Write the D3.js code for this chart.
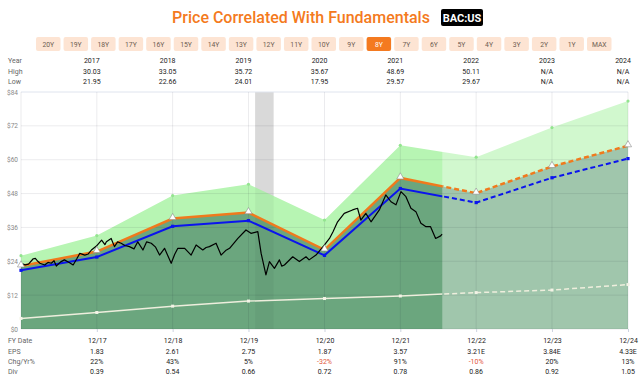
<!DOCTYPE html>
<html>
<head>
<meta charset="utf-8">
<script src="https://cdn.jsdelivr.net/npm/d3@7"></script>
<style>
  body { margin: 0; background: #fff; }
  svg { display: block; font-family: Roboto, "Noto Sans", sans-serif; }
</style>
</head>
<body>
<svg id="chart" width="640" height="376"></svg>
<script>
// range buttons
const ranges = ["20Y","19Y","18Y","17Y","16Y","15Y","14Y","13Y","12Y","11Y","10Y","9Y","8Y","7Y","6Y","5Y","4Y","3Y","2Y","1Y","MAX"];
const selectedRange = "8Y";

// top table
const years = ["2017","2018","2019","2020","2021","2022","2023","2024"];
const highs = ["30.03","33.05","35.72","35.67","48.69","50.11","N/A","N/A"];
const lows = ["21.95","22.66","24.01","17.95","29.57","29.67","N/A","N/A"];

// bottom table
const fyLabels = ["12/17","12/18","12/19","12/20","12/21","12/22","12/23","12/24"];
const epsLabels = ["1.83","2.61","2.75","1.87","3.57","3.21E","3.84E","4.33E"];
const chgLabels = ["22%","43%","5%","-32%","91%","-10%","20%","13%"];
const divLabels = ["0.39","0.54","0.66","0.72","0.78","0.86","0.92","1.05"];

// fundamentals, fiscal year ends 12/16 .. 12/24
const fyEnds = ["2016-12-31","2017-12-31","2018-12-31","2019-12-31","2020-12-31","2021-12-31","2022-12-31","2023-12-31","2024-12-31"];
const upperBand = [26.0, 33.1, 47.3, 51.3, 38.6, 65.1, 60.9, 71.4, 80.8];
const normalPE = [22.35, 27.45, 39.15, 41.25, 28.05, 53.55, 48.15, 57.6, 64.95];
const blendedPE = [20.8, 25.5, 36.4, 38.4, 26.1, 49.8, 44.8, 53.6, 60.4];
const divLine = [3.75, 5.85, 8.1, 9.9, 10.8, 11.7, 12.9, 13.8, 15.75];

// closing price
const priceDates = ["2016-12-30","2017-01-12","2017-01-20","2017-02-05","2017-02-28","2017-03-10","2017-03-22","2017-04-01","2017-04-24","2017-05-10","2017-05-26","2017-06-08","2017-06-19","2017-07-10","2017-07-28","2017-08-20","2017-09-08","2017-09-25","2017-10-10","2017-11-03","2017-11-20","2017-12-05","2017-12-29","2018-01-23","2018-02-08","2018-02-15","2018-03-10","2018-03-26","2018-04-10","2018-04-27","2018-05-15","2018-06-06","2018-06-28","2018-07-16","2018-08-10","2018-08-28","2018-09-19","2018-10-10","2018-10-29","2018-11-22","2018-12-24","2019-01-10","2019-01-25","2019-02-27","2019-03-30","2019-04-23","2019-05-25","2019-06-10","2019-06-26","2019-07-28","2019-08-21","2019-09-12","2019-10-01","2019-11-10","2019-12-19","2020-01-12","2020-02-14","2020-03-01","2020-03-24","2020-04-10","2020-05-04","2020-05-28","2020-06-08","2020-06-21","2020-07-31","2020-09-01","2020-10-03","2020-10-18","2020-11-20","2020-12-31","2021-01-24","2021-02-10","2021-03-04","2021-04-05","2021-05-15","2021-06-08","2021-06-24","2021-07-18","2021-08-12","2021-09-21","2021-10-22","2021-11-16","2021-12-10","2022-01-03","2022-01-27","2022-02-20","2022-03-16","2022-04-09","2022-05-02","2022-05-25","2022-06-19","2022-07-13","2022-07-20"];
const priceValues = [22.1,23.0,22.7,23.0,24.9,25.0,24.0,23.3,22.7,23.6,23.3,24.2,22.3,23.8,24.5,23.6,22.7,24.8,26.8,26.2,26.6,28.0,29.4,31.5,29.9,30.9,32.1,29.2,30.9,30.4,29.6,29.2,28.4,30.9,28.0,30.9,30.4,29.0,26.2,28.6,23.3,26.5,28.6,28.6,26.2,29.8,28.0,28.9,29.2,30.4,26.2,27.8,28.6,32.1,35.1,33.9,34.5,26.8,19.2,23.9,21.5,24.5,22.3,22.7,25.6,23.9,25.6,24.5,26.2,29.8,32.1,34.5,38.0,41.0,42.2,42.8,38.6,41.0,38.0,42.2,47.5,45.1,44.0,48.7,46.9,42.8,41.6,37.5,36.3,36.3,32.1,33.0,33.6];

const currentDate = "2022-07-21";
const recession = ["2020-02-01","2020-04-30"];
const yTicks = [0, 12, 24, 36, 48, 60, 72, 84];

const parse = d3.timeParse("%Y-%m-%d");
const svg = d3.select("#chart");

const plotLeft = 21, plotRight = 628, plotTop = 92, plotBottom = 329;
const x = d3.scaleTime().domain([parse(fyEnds[0]), parse(fyEnds[fyEnds.length - 1])]).range([plotLeft, plotRight]);
const y = d3.scaleLinear().domain([0, 84]).range([plotBottom, plotTop]);

// title
svg.append("text")
  .attr("x", 301).attr("y", 23)
  .attr("text-anchor", "middle")
  .attr("fill", "#f47a20")
  .style("font-size", "16px").style("font-weight", 500)
  .text("Price Correlated With Fundamentals");
svg.append("rect")
  .attr("x", 441).attr("y", 9).attr("width", 42).attr("height", 17).attr("rx", 2)
  .attr("fill", "#000");
svg.append("text")
  .attr("x", 462).attr("y", 21.5)
  .attr("text-anchor", "middle").attr("fill", "#fff")
  .style("font-size", "11px").style("font-weight", 700)
  .text("BAC:US");

// buttons
const btn = svg.append("g").selectAll("g").data(ranges).join("g")
  .attr("transform", (d, i) => `translate(${36 + i * 27.55},37)`);
btn.append("rect")
  .attr("width", 24.5).attr("height", 14).attr("rx", 2)
  .attr("fill", d => d === selectedRange ? "#f47a20" : "#fde4d3");
btn.append("text")
  .attr("x", 12.25).attr("y", 9.5).attr("text-anchor", "middle")
  .attr("fill", d => d === selectedRange ? "#fff" : "#6e5d52")
  .style("font-size", "6.8px")
  .text(d => d);

// top table
const tableCol = i => x(parse(fyEnds[i + 1])) - 5;
function tableRow(label, values, yy, colorFn) {
  svg.append("text").attr("x", 8).attr("y", yy).attr("dy", "0.35em")
    .attr("fill", "#666").style("font-size", "7px").text(label);
  svg.append("g").selectAll("text").data(values).join("text")
    .attr("x", (d, i) => tableCol(i)).attr("y", yy).attr("dy", "0.35em")
    .attr("text-anchor", "middle")
    .attr("fill", colorFn || "#222").style("font-size", "7px")
    .text(d => d);
}
tableRow("Year", years, 61);
tableRow("High", highs, 72);
tableRow("Low", lows, 82);

// plot
const plot = svg.append("g");
const cur = x(parse(currentDate));

// recession band behind
plot.append("rect")
  .attr("x", x(parse(recession[0]))).attr("y", plotTop)
  .attr("width", x(parse(recession[1])) - x(parse(recession[0])))
  .attr("height", plotBottom - plotTop).attr("fill", "#e2e2e2");

const fy = fyEnds.map(parse);
const areaUpper = d3.area().x((d, i) => x(fy[i])).y0(y(0)).y1(d => y(d));
plot.append("path").datum(upperBand).attr("d", areaUpper).attr("fill", "#b7f5b3");
plot.append("path").datum(normalPE).attr("d", areaUpper).attr("fill", "#6ba67e");

// recession tint over areas
plot.append("rect")
  .attr("x", x(parse(recession[0]))).attr("y", plotTop)
  .attr("width", x(parse(recession[1])) - x(parse(recession[0])))
  .attr("height", plotBottom - plotTop).attr("fill", "rgba(0,0,0,0.04)");

// future wash
plot.append("rect")
  .attr("x", cur).attr("y", plotTop).attr("width", plotRight - cur).attr("height", plotBottom - plotTop)
  .attr("fill", "rgba(255,255,255,0.36)");

// grid
plot.append("g").selectAll("line").data(yTicks).join("line")
  .attr("x1", plotLeft).attr("x2", plotRight).attr("y1", d => y(d)).attr("y2", d => y(d))
  .attr("stroke", d => d === 84 ? "#dfe4ee" : "rgba(0,0,40,0.08)").attr("stroke-width", 1);
plot.append("g").selectAll("line").data(fy).join("line")
  .attr("x1", d => x(d)).attr("x2", d => x(d)).attr("y1", plotTop).attr("y2", plotBottom)
  .attr("stroke", "rgba(0,0,40,0.08)").attr("stroke-width", 1);

// axes
const yAxis = svg.append("g").attr("transform", `translate(${plotLeft},0)`)
  .call(d3.axisLeft(y).tickValues(yTicks).tickFormat(d => "$" + d).tickSize(0).tickPadding(3));
yAxis.select(".domain").remove();
yAxis.selectAll("text").attr("fill", "#888").style("font-size", "6.5px").style("font-family", "Roboto, sans-serif");

const xAxis = svg.append("g").attr("transform", `translate(0,${plotBottom})`)
  .call(d3.axisBottom(x).tickValues(fy.slice(1)).tickFormat(d3.timeFormat("%m/%y")).tickSize(3).tickPadding(6));
xAxis.select(".domain").remove();
xAxis.selectAll("line").attr("stroke", "#cdd3e0");
xAxis.selectAll("text").attr("fill", "#222").style("font-size", "7px").style("font-family", "Roboto, sans-serif");
svg.append("text").attr("x", 8).attr("y", 341).attr("dy", "0.35em")
  .attr("fill", "#666").style("font-size", "7px").text("FY Date");

// bottom table
const botCol = i => x(fy[i + 1]);
function botRow(label, values, yy, colorFn) {
  svg.append("text").attr("x", 8).attr("y", yy).attr("dy", "0.35em")
    .attr("fill", "#666").style("font-size", "7px").text(label);
  svg.append("g").selectAll("text").data(values).join("text")
    .attr("x", (d, i) => botCol(i)).attr("y", yy).attr("dy", "0.35em")
    .attr("text-anchor", "middle")
    .attr("fill", colorFn || "#222").style("font-size", "7px")
    .text(d => d);
}
botRow("EPS", epsLabels, 352);
botRow("Chg/Yr%", chgLabels, 362, d => d.startsWith("-") ? "#e2563b" : "#222");
botRow("Div", divLabels, 372);

// clip paths for solid (past) and dashed (future) parts
const defs = svg.append("defs");
defs.append("clipPath").attr("id", "past").append("rect")
  .attr("x", 0).attr("y", 0).attr("width", cur).attr("height", 376);
defs.append("clipPath").attr("id", "future").append("rect")
  .attr("x", cur).attr("y", 0).attr("width", 640 - cur).attr("height", 376);

const fyLine = d3.line().x((d, i) => x(fy[i])).y(d => y(d));
function splitLine(data, color, width, dash) {
  plot.append("path").datum(data).attr("d", fyLine).attr("fill", "none")
    .attr("stroke", color).attr("stroke-width", width).attr("clip-path", "url(#past)");
  plot.append("path").datum(data).attr("d", fyLine).attr("fill", "none")
    .attr("stroke", color).attr("stroke-width", width).attr("stroke-dasharray", dash)
    .attr("clip-path", "url(#future)");
}

// upper band edge dots
plot.append("g").selectAll("circle").data(upperBand).join("circle")
  .attr("cx", (d, i) => x(fy[i])).attr("cy", d => y(d)).attr("r", 1.6)
  .attr("fill", "#93e48f");

splitLine(divLine, "#eeeedd", 1.5, "5,3");
plot.append("g").selectAll("rect").data(divLine).join("rect")
  .attr("x", (d, i) => x(fy[i]) - 1.5).attr("y", d => y(d) - 1.5)
  .attr("width", 3).attr("height", 3).attr("fill", "#f3f3e6");

splitLine(normalPE, "#f07a1d", 2.5, "5,3");
splitLine(blendedPE, "#0a14ee", 2, "5,3");
plot.append("g").selectAll("rect").data(blendedPE).join("rect")
  .attr("x", (d, i) => x(fy[i]) - 1.6).attr("y", d => y(d) - 1.6)
  .attr("width", 3.2).attr("height", 3.2).attr("fill", "#0a14ee");

// price
const price = priceDates.map((d, i) => ({ date: parse(d), v: priceValues[i] }));
plot.append("path").datum(price)
  .attr("d", d3.line().x(d => x(d.date)).y(d => y(d.v)))
  .attr("fill", "none").attr("stroke", "#000").attr("stroke-width", 1.2)
  .attr("stroke-linejoin", "round");

// triangles on normal P/E line
plot.append("g").selectAll("path").data(normalPE).join("path")
  .attr("d", d3.symbol(d3.symbolTriangle, 22))
  .attr("transform", (d, i) => `translate(${x(fy[i])},${y(d) - 1})`)
  .attr("fill", "#fff").attr("stroke", "#8a8a8a").attr("stroke-width", 0.6);
</script>
</body>
</html>
